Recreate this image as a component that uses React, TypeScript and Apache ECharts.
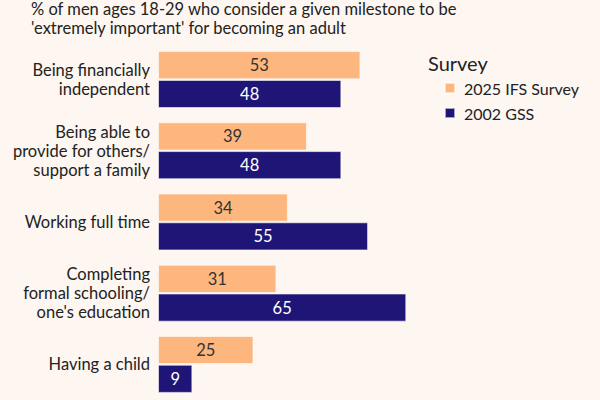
import React, { useEffect, useRef } from "react";
import * as echarts from "echarts";

const categories = [
  "Being financially\nindependent",
  "Being able to\nprovide for others/\nsupport a family",
  "Working full time",
  "Completing\nformal schooling/\none's education",
  "Having a child",
];
const ifs2025 = [53, 39, 34, 31, 25];
const gss2002 = [48, 48, 55, 65, 9];
const seriesNames = ["2025 IFS Survey", "2002 GSS"];
const titleLines = [
  "% of men ages 18-29 who consider a given milestone to be",
  "'extremely important' for becoming an adult",
];

export default function App() {
  const ref = useRef<HTMLDivElement>(null);
  useEffect(() => {
    if (!ref.current) return;
    const chart = echarts.init(ref.current, null, { renderer: "svg" });
    const font = "Lato, sans-serif";
    chart.setOption({
      animation: false,
      backgroundColor: "#fdf6f1",
      textStyle: { fontFamily: font },
      graphic: [
        {
          type: "text",
          left: 31,
          top: 0,
          style: {
            text: titleLines.join("\n"),
            font: `16.5px ${font}`,
            lineHeight: 18.5,
            fill: "#222",
          },
        },
        {
          type: "text",
          left: 428,
          top: 53,
          style: { text: "Survey", font: `20px ${font}`, fill: "#222" },
        },
      ],
      legend: {
        orient: "vertical",
        left: 439,
        top: 75,
        itemWidth: 10,
        itemHeight: 10,
        itemGap: 9,
        icon: "rect",
        textStyle: { fontSize: 16, color: "#222", fontFamily: font, padding: [0, 0, 0, 4] },
        data: seriesNames,
      },
      grid: { left: 158, top: 44, width: 382, height: 360 },
      xAxis: { type: "value", min: 0, max: 100, show: false },
      yAxis: {
        type: "category",
        data: categories,
        inverse: true,
        axisLine: { show: false },
        axisTick: { show: false },
        axisLabel: {
          fontSize: 16.5,
          lineHeight: 19,
          color: "#222",
          margin: 8,
          fontFamily: font,
          align: "right",
        },
      },
      series: [
        {
          name: seriesNames[0],
          type: "bar",
          data: ifs2025,
          barGap: "2%",
          barCategoryGap: "20%",
          itemStyle: { color: "#fdb67e", borderColor: "rgba(255,255,255,0.6)", borderWidth: 1 },
          label: { show: true, position: "inside", color: "#333", fontSize: 16.5, fontFamily: font },
        },
        {
          name: seriesNames[1],
          type: "bar",
          data: gss2002,
          itemStyle: { color: "#1f1577", borderColor: "rgba(255,255,255,0.6)", borderWidth: 1 },
          label: { show: true, position: "inside", color: "#fff", fontSize: 16.5, fontFamily: font },
        },
      ],
    });
    return () => chart.dispose();
  }, []);
  return <div ref={ref} style={{ width: 600, height: 400, position: "fixed", left: 0, top: 0 }} />;
}
